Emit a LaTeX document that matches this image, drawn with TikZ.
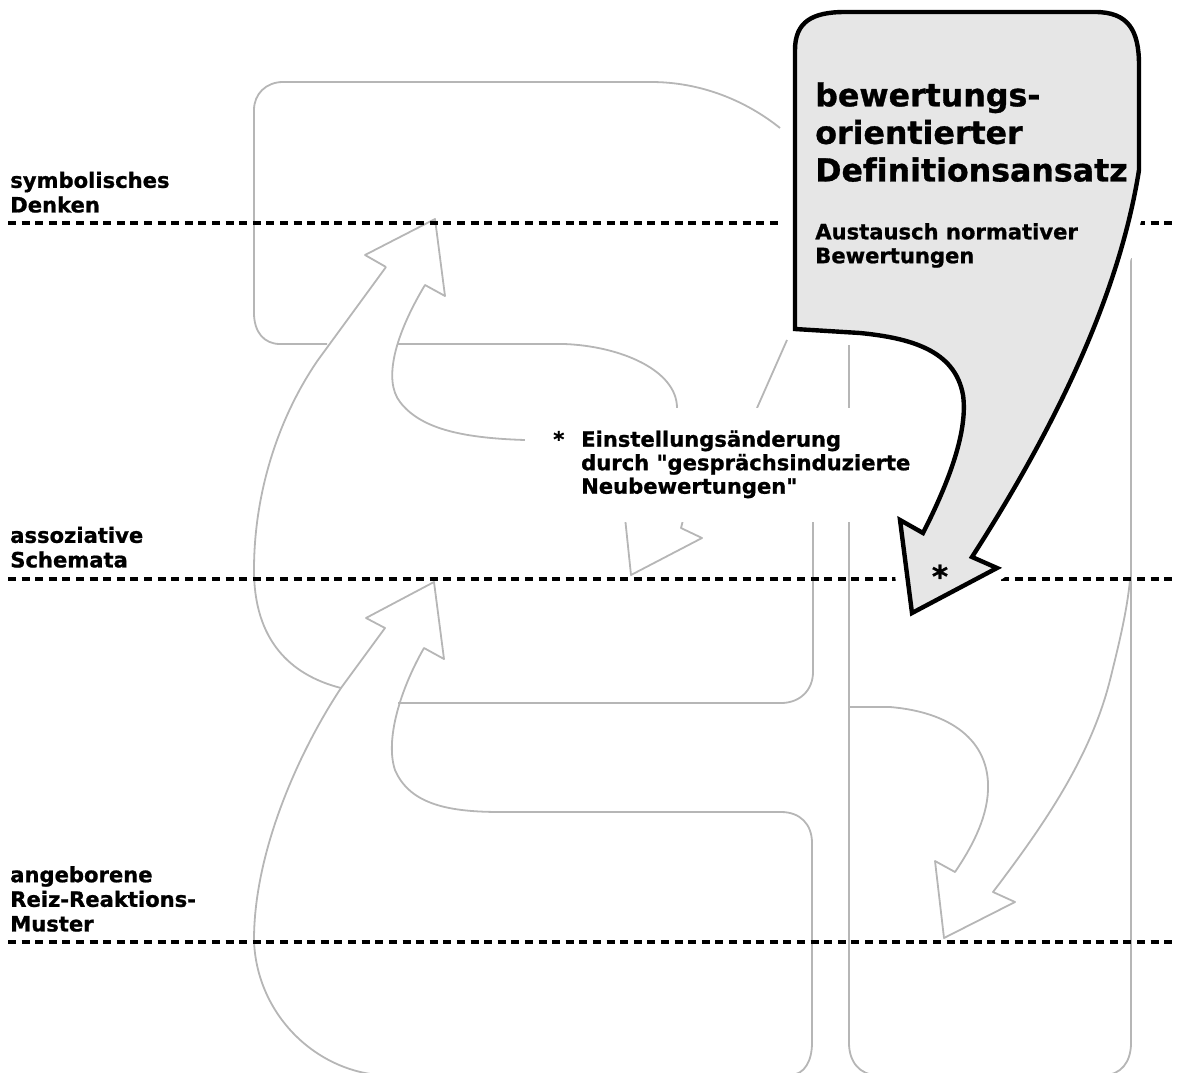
\documentclass[tikz,border=0pt]{standalone}
\usepackage{fontspec}
\setmainfont{DejaVu Sans}[Ligatures={TeXOff,CommonOff}, BoldFeatures={FakeBold=1}]
\usetikzlibrary{positioning}
\definecolor{shapegray}{RGB}{182,182,182}
\definecolor{calloutgray}{RGB}{230,230,230}

\begin{document}
\begin{tikzpicture}[
  x=0.025cm, y=-0.025cm,
  every node/.style={inner sep=0pt},
  outline/.style={draw=shapegray, line width=0.045cm, line join=round},
  level/.style={draw=black, line width=0.1cm, dash pattern=on 0.2cm off 0.14cm},
  lvllabel/.style={align=left, anchor=south west, font=\fontsize{15pt}{17.5pt}\selectfont\bfseries},
  callout/.style={fill=calloutgray, draw=black, line width=0.11cm,
    preaction={draw=white, line width=0.6cm, line join=round}},
  title/.style={align=left, anchor=north west, font=\fontsize{22.5pt}{26.7pt}\selectfont\bfseries},
  subtitle/.style={align=left, font=\fontsize{15pt}{17pt}\selectfont\bfseries},
  midtext/.style={anchor=north west, font=\fontsize{15pt}{16.7pt}\selectfont\bfseries}
]
\useasboundingbox (0,0) rectangle (1177,1072);

% symbolic box, arrow down to the asterisk
\draw[outline] (780,128) .. controls (745,100) and (700,82) .. (651,82) -- (283,82)
  .. controls (266,82) and (254,94) .. (254,110) -- (254,313)
  .. controls (254,332) and (264,344) .. (280,344) -- (327,344);
\draw[outline] (397,344) -- (564,344) .. controls (620,346) and (677,370) .. (677,408);
\draw[outline] (787,340) -- (757,408);
\draw[outline] (624,508) -- (631,575) -- (702,538) -- (681,528) -- (686,508);

% arrow up to symbolic level
\draw[outline] (386,267) -- (365,255) -- (435,219) -- (445,296) -- (425,285)
  .. controls (395,335) and (383,380) .. (400,402)
  .. controls (420,428) and (460,438) .. (525,440);
\draw[outline] (386,267) -- (318,360) .. controls (280,415) and (254,490) .. (254,570)
  .. controls (254,640) and (290,675) .. (341,688);
\draw[outline] (398,703) -- (781,703) .. controls (800,703) and (813,690) .. (813,672) -- (813,505);

% arrow up to associative level
\draw[outline] (385,628) -- (366,618) -- (434,582) -- (444,659) -- (424,648)
  .. controls (400,690) and (385,740) .. (395,770)
  .. controls (410,805) and (450,812) .. (501,812) -- (781,812)
  .. controls (800,812) and (812,824) .. (812,843) -- (812,1043)
  .. controls (812,1060) and (805,1075) .. (790,1075) -- (378,1075)
  .. controls (310,1068) and (256,1010) .. (254,940)
  .. controls (254,850) and (300,750) .. (341,688) -- cycle;

% right box and arrow down
\draw[outline] (849,345) -- (849,1043) .. controls (849,1062) and (860,1075) .. (877,1075)
  -- (1104,1075) .. controls (1121,1075) and (1131,1062) .. (1131,1043) -- (1131,258);
\draw[outline] (849,707) -- (890,707) .. controls (950,712) and (990,740) .. (988,790)
  .. controls (987,820) and (970,850) .. (955,872) -- (935,861) -- (944,938)
  -- (1015,902) -- (993,892) .. controls (1040,830) and (1090,760) .. (1110,680)
  .. controls (1120,640) and (1127,610) .. (1130,580);

% level lines
\draw[level] (8,223) -- (1177,223);
\draw[level] (8,579) -- (1177,579);
\draw[level] (8,942) -- (1177,942);

\node[lvllabel] (lvlsym) at (10,213) {symbolisches\\Denken};
\node[lvllabel] (lvlass) at (10,568) {assoziative\\Schemata};
\node[lvllabel] (lvlinn) at (10,932) {angeborene\\Reiz-Reaktions-\\Muster};

% middle annotation
\fill[white] (525,408) rectangle (915,522);
\node[midtext] (change) at (553,430) {\begin{tabular}{@{}l@{\hspace{12pt}}l@{}}
  *&Einstellungsänderung\\
   &durch "gesprächsinduzierte\\
   &Neubewertungen"
\end{tabular}};

% callout
\path[callout] (795,329) -- (795,50) .. controls (795,22) and (812,12) .. (845,12) -- (1095,12)
  .. controls (1128,12) and (1139,30) .. (1139,65) -- (1139,170)
  .. controls (1120,290) and (1060,420) .. (972,557) -- (997,568) -- (912,613)
  -- (900,520) -- (923,533) .. controls (950,480) and (968,430) .. (963,395)
  .. controls (955,350) and (910,338) .. (860,333) -- cycle;
\node[title] (approach) at (815,82) {bewertungs-\\orientierter\\Definitionsansatz};
\node[subtitle, below=1.02cm of approach.south west, anchor=north west] (exchange) {Austausch normativer\\Bewertungen};
\node[font=\fontsize{22pt}{22pt}\selectfont\bfseries] (star) at (940,576) {*};

\end{tikzpicture}
\end{document}
